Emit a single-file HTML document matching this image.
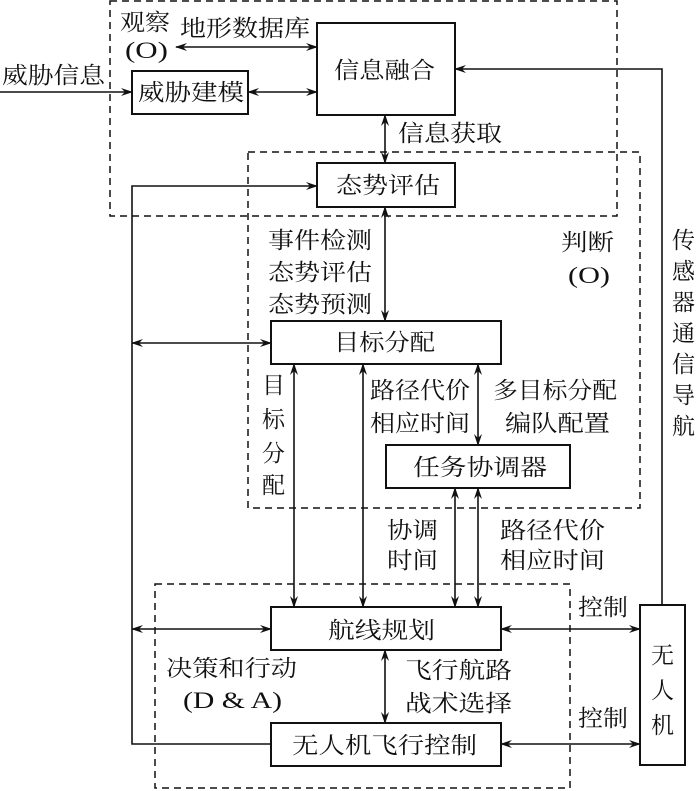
<!DOCTYPE html>
<html><head><meta charset="utf-8"><style>
html,body{margin:0;padding:0;background:#fff}
svg{display:block}
text{font-family:"Liberation Serif","Noto Serif CJK SC","Noto Sans CJK SC",serif;font-size:23px;fill:#111}
</style></head><body>
<svg width="700" height="791" viewBox="0 0 700 791" xmlns="http://www.w3.org/2000/svg">
<defs>
<marker id="a" markerWidth="12" markerHeight="8" refX="11" refY="4" orient="auto-start-reverse" markerUnits="userSpaceOnUse">
<path d="M0,0 L12,4 L0,8 L4,4 Z" fill="#111"/></marker>
</defs>
<g fill="none" stroke="#111" stroke-width="1.5" stroke-dasharray="7,5">
<rect x="110" y="1" width="507" height="215"/>
<rect x="248" y="152" width="392" height="356"/>
<rect x="155" y="584" width="415" height="204"/>
</g>
<g fill="#fff" stroke="#111" stroke-width="2">
<rect x="317" y="23" width="138" height="92"/>
<rect x="132" y="71" width="116" height="43"/>
<rect x="317" y="163" width="138" height="44"/>
<rect x="271" y="321" width="230" height="43"/>
<rect x="386" y="445" width="184" height="43"/>
<rect x="271" y="607" width="230" height="43"/>
<rect x="271" y="723" width="230" height="43"/>
<rect x="640" y="605" width="45" height="160"/>
</g>
<g stroke="#111" stroke-width="1.6" fill="none">
<line x1="0" y1="92" x2="132" y2="92" marker-end="url(#a)"/>
<line x1="248" y1="92" x2="317" y2="92" marker-start="url(#a)" marker-end="url(#a)"/>
<line x1="176" y1="47" x2="317" y2="47" marker-start="url(#a)" marker-end="url(#a)"/>
<polyline points="662,605 662,69 455,69" marker-end="url(#a)"/>
<line x1="385" y1="115" x2="385" y2="163" marker-start="url(#a)" marker-end="url(#a)"/>
<line x1="385" y1="207" x2="385" y2="321" marker-start="url(#a)" marker-end="url(#a)"/>
<polyline points="271,744 132,744 132,186 317,186" marker-end="url(#a)"/>
<line x1="132" y1="343" x2="271" y2="343" marker-start="url(#a)" marker-end="url(#a)"/>
<line x1="132" y1="629" x2="271" y2="629" marker-start="url(#a)" marker-end="url(#a)"/>
<line x1="294" y1="364" x2="294" y2="607" marker-start="url(#a)" marker-end="url(#a)"/>
<line x1="363" y1="364" x2="363" y2="607" marker-start="url(#a)" marker-end="url(#a)"/>
<line x1="478" y1="364" x2="478" y2="445" marker-start="url(#a)" marker-end="url(#a)"/>
<line x1="478" y1="488" x2="478" y2="607" marker-start="url(#a)" marker-end="url(#a)"/>
<line x1="455" y1="488" x2="455" y2="607" marker-start="url(#a)" marker-end="url(#a)"/>
<line x1="385" y1="650" x2="385" y2="723" marker-start="url(#a)" marker-end="url(#a)"/>
<line x1="501" y1="629" x2="640" y2="629" marker-start="url(#a)" marker-end="url(#a)"/>
<line x1="501" y1="744" x2="640" y2="744" marker-start="url(#a)" marker-end="url(#a)"/>
</g>
<g>
<text x="334" y="78" textLength="101" lengthAdjust="spacingAndGlyphs">信息融合</text>
<text x="138" y="100" textLength="106" lengthAdjust="spacingAndGlyphs">威胁建模</text>
<text x="2" y="83" textLength="103" lengthAdjust="spacingAndGlyphs">威胁信息</text>
<text x="120" y="30" textLength="50" lengthAdjust="spacingAndGlyphs">观察</text>
<text x="125" y="58" textLength="43" lengthAdjust="spacingAndGlyphs">(O)</text>
<text x="180" y="36" textLength="130" lengthAdjust="spacingAndGlyphs">地形数据库</text>
<text x="398" y="141" textLength="104" lengthAdjust="spacingAndGlyphs">信息获取</text>
<text x="336" y="193" textLength="104" lengthAdjust="spacingAndGlyphs">态势评估</text>
<text x="268" y="248" textLength="104" lengthAdjust="spacingAndGlyphs">事件检测</text>
<text x="268" y="280" textLength="104" lengthAdjust="spacingAndGlyphs">态势评估</text>
<text x="268" y="312" textLength="104" lengthAdjust="spacingAndGlyphs">态势预测</text>
<text x="561" y="250" textLength="53" lengthAdjust="spacingAndGlyphs">判断</text>
<text x="568" y="283" textLength="42" lengthAdjust="spacingAndGlyphs">(O)</text>
<text x="334" y="350" textLength="101" lengthAdjust="spacingAndGlyphs">目标分配</text>
<text x="262" y="393">目</text>
<text x="262" y="427">标</text>
<text x="262" y="461">分</text>
<text x="262" y="493">配</text>
<text x="370" y="398" textLength="100" lengthAdjust="spacingAndGlyphs">路径代价</text>
<text x="370" y="431" textLength="100" lengthAdjust="spacingAndGlyphs">相应时间</text>
<text x="493" y="398" textLength="124" lengthAdjust="spacingAndGlyphs">多目标分配</text>
<text x="505" y="431" textLength="105" lengthAdjust="spacingAndGlyphs">编队配置</text>
<text x="413" y="475" textLength="134" lengthAdjust="spacingAndGlyphs">任务协调器</text>
<text x="387" y="538" textLength="51" lengthAdjust="spacingAndGlyphs">协调</text>
<text x="387" y="568" textLength="51" lengthAdjust="spacingAndGlyphs">时间</text>
<text x="500" y="538" textLength="105" lengthAdjust="spacingAndGlyphs">路径代价</text>
<text x="500" y="568" textLength="105" lengthAdjust="spacingAndGlyphs">相应时间</text>
<text x="578" y="615" textLength="50" lengthAdjust="spacingAndGlyphs">控制</text>
<text x="578" y="726" textLength="50" lengthAdjust="spacingAndGlyphs">控制</text>
<text x="328" y="638" textLength="107" lengthAdjust="spacingAndGlyphs">航线规划</text>
<text x="166" y="676" textLength="131" lengthAdjust="spacingAndGlyphs">决策和行动</text>
<text x="183" y="708" textLength="99" lengthAdjust="spacingAndGlyphs">(D &amp; A)</text>
<text x="405" y="678" textLength="107" lengthAdjust="spacingAndGlyphs">飞行航路</text>
<text x="405" y="711" textLength="107" lengthAdjust="spacingAndGlyphs">战术选择</text>
<text x="292" y="753" textLength="185" lengthAdjust="spacingAndGlyphs">无人机飞行控制</text>
<text x="651" y="663">无</text>
<text x="651" y="698">人</text>
<text x="651" y="733">机</text>
<text x="672" y="248">传</text>
<text x="672" y="279">感</text>
<text x="672" y="310">器</text>
<text x="672" y="341">通</text>
<text x="672" y="372">信</text>
<text x="672" y="403">导</text>
<text x="672" y="434">航</text>
</g>
</svg>
</body></html>
